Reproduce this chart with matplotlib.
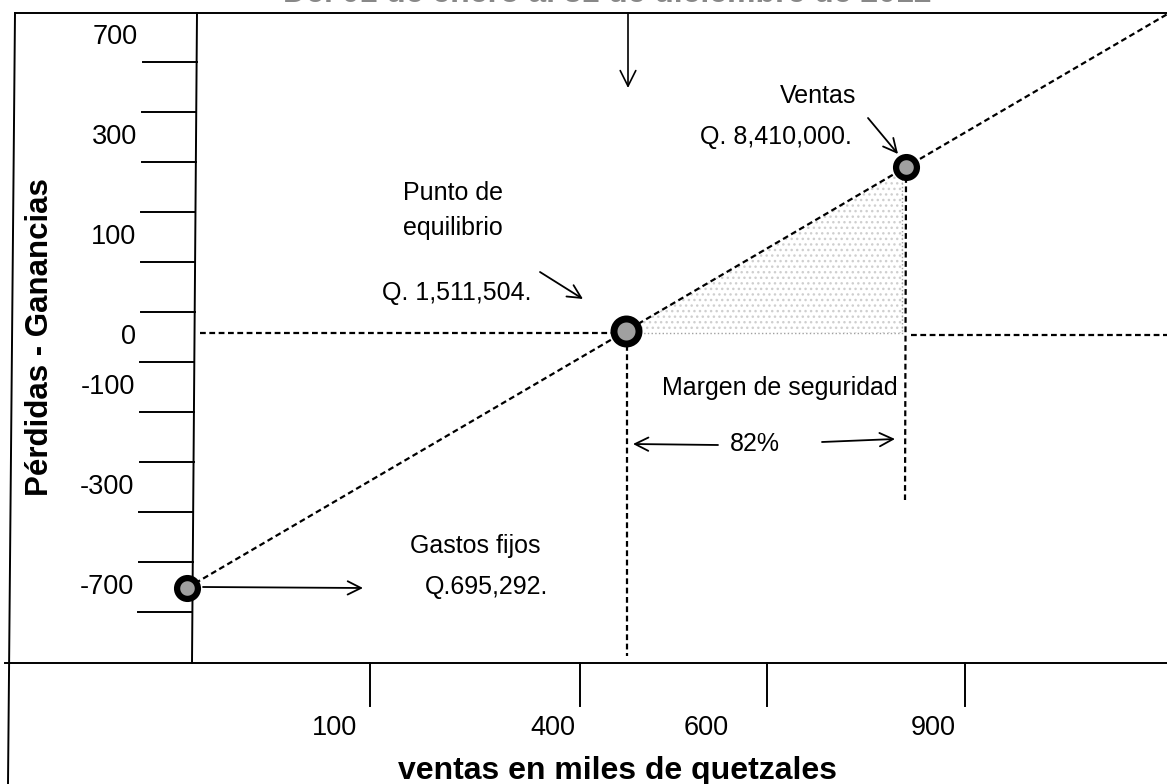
import matplotlib
matplotlib.use("Agg")
import matplotlib.pyplot as plt

# ---------------- data (texts / values) ----------------
title = "Del 01 de enero al 31 de diciembre de 2012"
y_tick_labels = ["700", "300", "100", "0", "-100", "-300", "-700"]
x_tick_labels = ["100", "400", "600", "900"]
x_label = "ventas en miles de quetzales"
y_label = "Pérdidas - Ganancias"
fixed_costs_text = ["Gastos fijos", "Q.695,292."]
break_even_text = ["Punto de", "equilibrio", "Q. 1,511,504."]
sales_text = ["Ventas", "Q. 8,410,000."]
margin_text = ["Margen de seguridad", "82%"]

# ---------------- layout (schematic drawing, pixel-like units) ----------------
W, H = 1167, 784
FONT = "Liberation Sans"
plt.rcParams["font.family"] = [FONT, "DejaVu Sans"]

fig = plt.figure(figsize=(W / 100, H / 100), dpi=100)
ax = fig.add_axes([0, 0, 1, 1])
ax.set_xlim(0, W)
ax.set_ylim(H, 0)
ax.axis("off")

LW = 1.4
top_y, base_y = 13, 663


def skew(x, y):
    # the scanned page is slightly rotated
    return x - (y - top_y) * 5.0 / 650.0


# frame
ax.plot([15, 8], [top_y, H], color="black", lw=LW)
ax.plot([15, W], [top_y, top_y], color="black", lw=LW)
ax.plot([skew(15, base_y) - 5, W], [base_y, base_y], color="black", lw=LW)
ax.plot([197, 192], [top_y, base_y], color="black", lw=LW)

# y ticks (12 evenly spaced marks) and labels between them
tick_ys = [62 + 50 * k for k in range(12)]
for ty in tick_ys:
    ax.plot([skew(143, ty), skew(197, ty)], [ty, ty], color="black", lw=LW)
label_slots = [0, 2, 4, 6, 7, 9, 11]
for lab, s in zip(y_tick_labels, label_slots):
    ly = 37 + 50 * s
    ax.text(skew(138, ly), ly, lab, ha="right", va="center", fontsize=19.5)

# x ticks and labels
x_tick_pos = [370, 580, 767, 965]
x_lab_pos = [335, 553, 706, 933]
for tx, lx, lab in zip(x_tick_pos, x_lab_pos, x_tick_labels):
    ax.plot([tx, tx], [base_y, 706], color="black", lw=LW)
    ax.text(lx, 728, lab, ha="center", va="center", fontsize=19.5)

ax.text(617, 779, x_label, ha="center", va="baseline", fontsize=23,
        fontweight="bold")
ax.text(40, 337, y_label, ha="center", va="center", rotation=90,
        fontsize=22.5, fontweight="bold")

# cut-off title at the very top (only its lower edge is visible)
ax.text(607, 1.5, title, ha="center", va="baseline", fontsize=23,
        fontweight="bold", color="#888888")

# top arrow
ax.annotate("", xy=(628, 88), xytext=(628, top_y),
            arrowprops=dict(arrowstyle="->", lw=1.2, color="black",
                            mutation_scale=28, shrinkA=0, shrinkB=0))

# key points of the schematic
fc_pt = (187, 588)
be_pt = (626, 331)
slope = (fc_pt[1] - be_pt[1]) / (fc_pt[0] - be_pt[0])
sales_x = 906
sales_pt = (sales_x, be_pt[1] + slope * (sales_x - be_pt[0]))
end_pt = (W, be_pt[1] + slope * (W - be_pt[0]))

dash = (0, (2.6, 1.6))
# shaded margin triangle
ax.fill([be_pt[0], sales_pt[0] - 3, sales_pt[0] - 3],
        [be_pt[1], sales_pt[1] + 2, be_pt[1] + 2],
        facecolor="white", edgecolor="#cfcfcf", hatch="...",
        linewidth=0, zorder=1)
ax.plot([be_pt[0] + 14, sales_pt[0] - 3], [be_pt[1] + 2, be_pt[1] + 2],
        color="#a0a0a0", lw=1.0, ls=":", zorder=2)
ax.plot([sales_pt[0] - 4, sales_pt[0] - 4], [sales_pt[1] + 12, be_pt[1]],
        color="#a0a0a0", lw=1.0, ls=":", zorder=2)

# cost-volume-profit line
ax.plot([fc_pt[0], end_pt[0]], [fc_pt[1], end_pt[1]], color="black",
        lw=1.6, ls=dash, zorder=3)
# horizontal zero line
ax.plot([200, be_pt[0] - 14], [be_pt[1] + 2, be_pt[1] + 2], color="black",
        lw=1.6, ls=dash, zorder=3)
ax.plot([sales_pt[0] + 5, W], [be_pt[1] + 4, be_pt[1] + 4], color="black",
        lw=1.6, ls=dash, zorder=3)
# vertical guides
ax.plot([be_pt[0] + 1, be_pt[0] + 1], [be_pt[1] + 14, 656], color="black",
        lw=1.6, ls=dash, zorder=3)
ax.plot([sales_pt[0], sales_pt[0] - 1], [sales_pt[1] + 10, 500],
        color="black", lw=1.6, ls=dash, zorder=3)

# markers
for (px, py), ms, mew in [(fc_pt, 15, 4.5), (be_pt, 18, 5.0),
                          (sales_pt, 15, 4.5)]:
    ax.plot([px], [py], marker="o", ms=ms, mfc="#a0a0a0", mec="black",
            mew=mew, zorder=5)

# annotations
afs = 18
ax.text(453, 193, break_even_text[0], ha="center", va="center", fontsize=afs)
ax.text(453, 228, break_even_text[1], ha="center", va="center", fontsize=afs)
ax.text(457, 293, break_even_text[2], ha="center", va="center", fontsize=afs)
ax.annotate("", xy=(583, 299), xytext=(540, 272),
            arrowprops=dict(arrowstyle="->", lw=1.3, color="black",
                            mutation_scale=24, shrinkA=0, shrinkB=0))

ax.text(818, 96, sales_text[0], ha="center", va="center", fontsize=afs)
ax.text(776, 137, sales_text[1], ha="center", va="center", fontsize=afs)
ax.annotate("", xy=(898, 154), xytext=(868, 118),
            arrowprops=dict(arrowstyle="->", lw=1.3, color="black",
                            mutation_scale=24, shrinkA=0, shrinkB=0))

ax.text(780, 388, margin_text[0], ha="center", va="center", fontsize=afs)
ax.text(755, 444, margin_text[1], ha="center", va="center", fontsize=afs)
ax.annotate("", xy=(633, 444), xytext=(718, 445),
            arrowprops=dict(arrowstyle="->", lw=1.3, color="black",
                            mutation_scale=24, shrinkA=0, shrinkB=0))
ax.annotate("", xy=(895, 439), xytext=(822, 442),
            arrowprops=dict(arrowstyle="->", lw=1.3, color="black",
                            mutation_scale=24, shrinkA=0, shrinkB=0))

ax.text(475, 546, fixed_costs_text[0], ha="center", va="center", fontsize=afs)
ax.text(487, 587, fixed_costs_text[1], ha="center", va="center", fontsize=afs)
ax.annotate("", xy=(363, 588), xytext=(203, 587),
            arrowprops=dict(arrowstyle="->", lw=1.3, color="black",
                            mutation_scale=24, shrinkA=0, shrinkB=0))

fig.savefig("out.png", dpi=100)
